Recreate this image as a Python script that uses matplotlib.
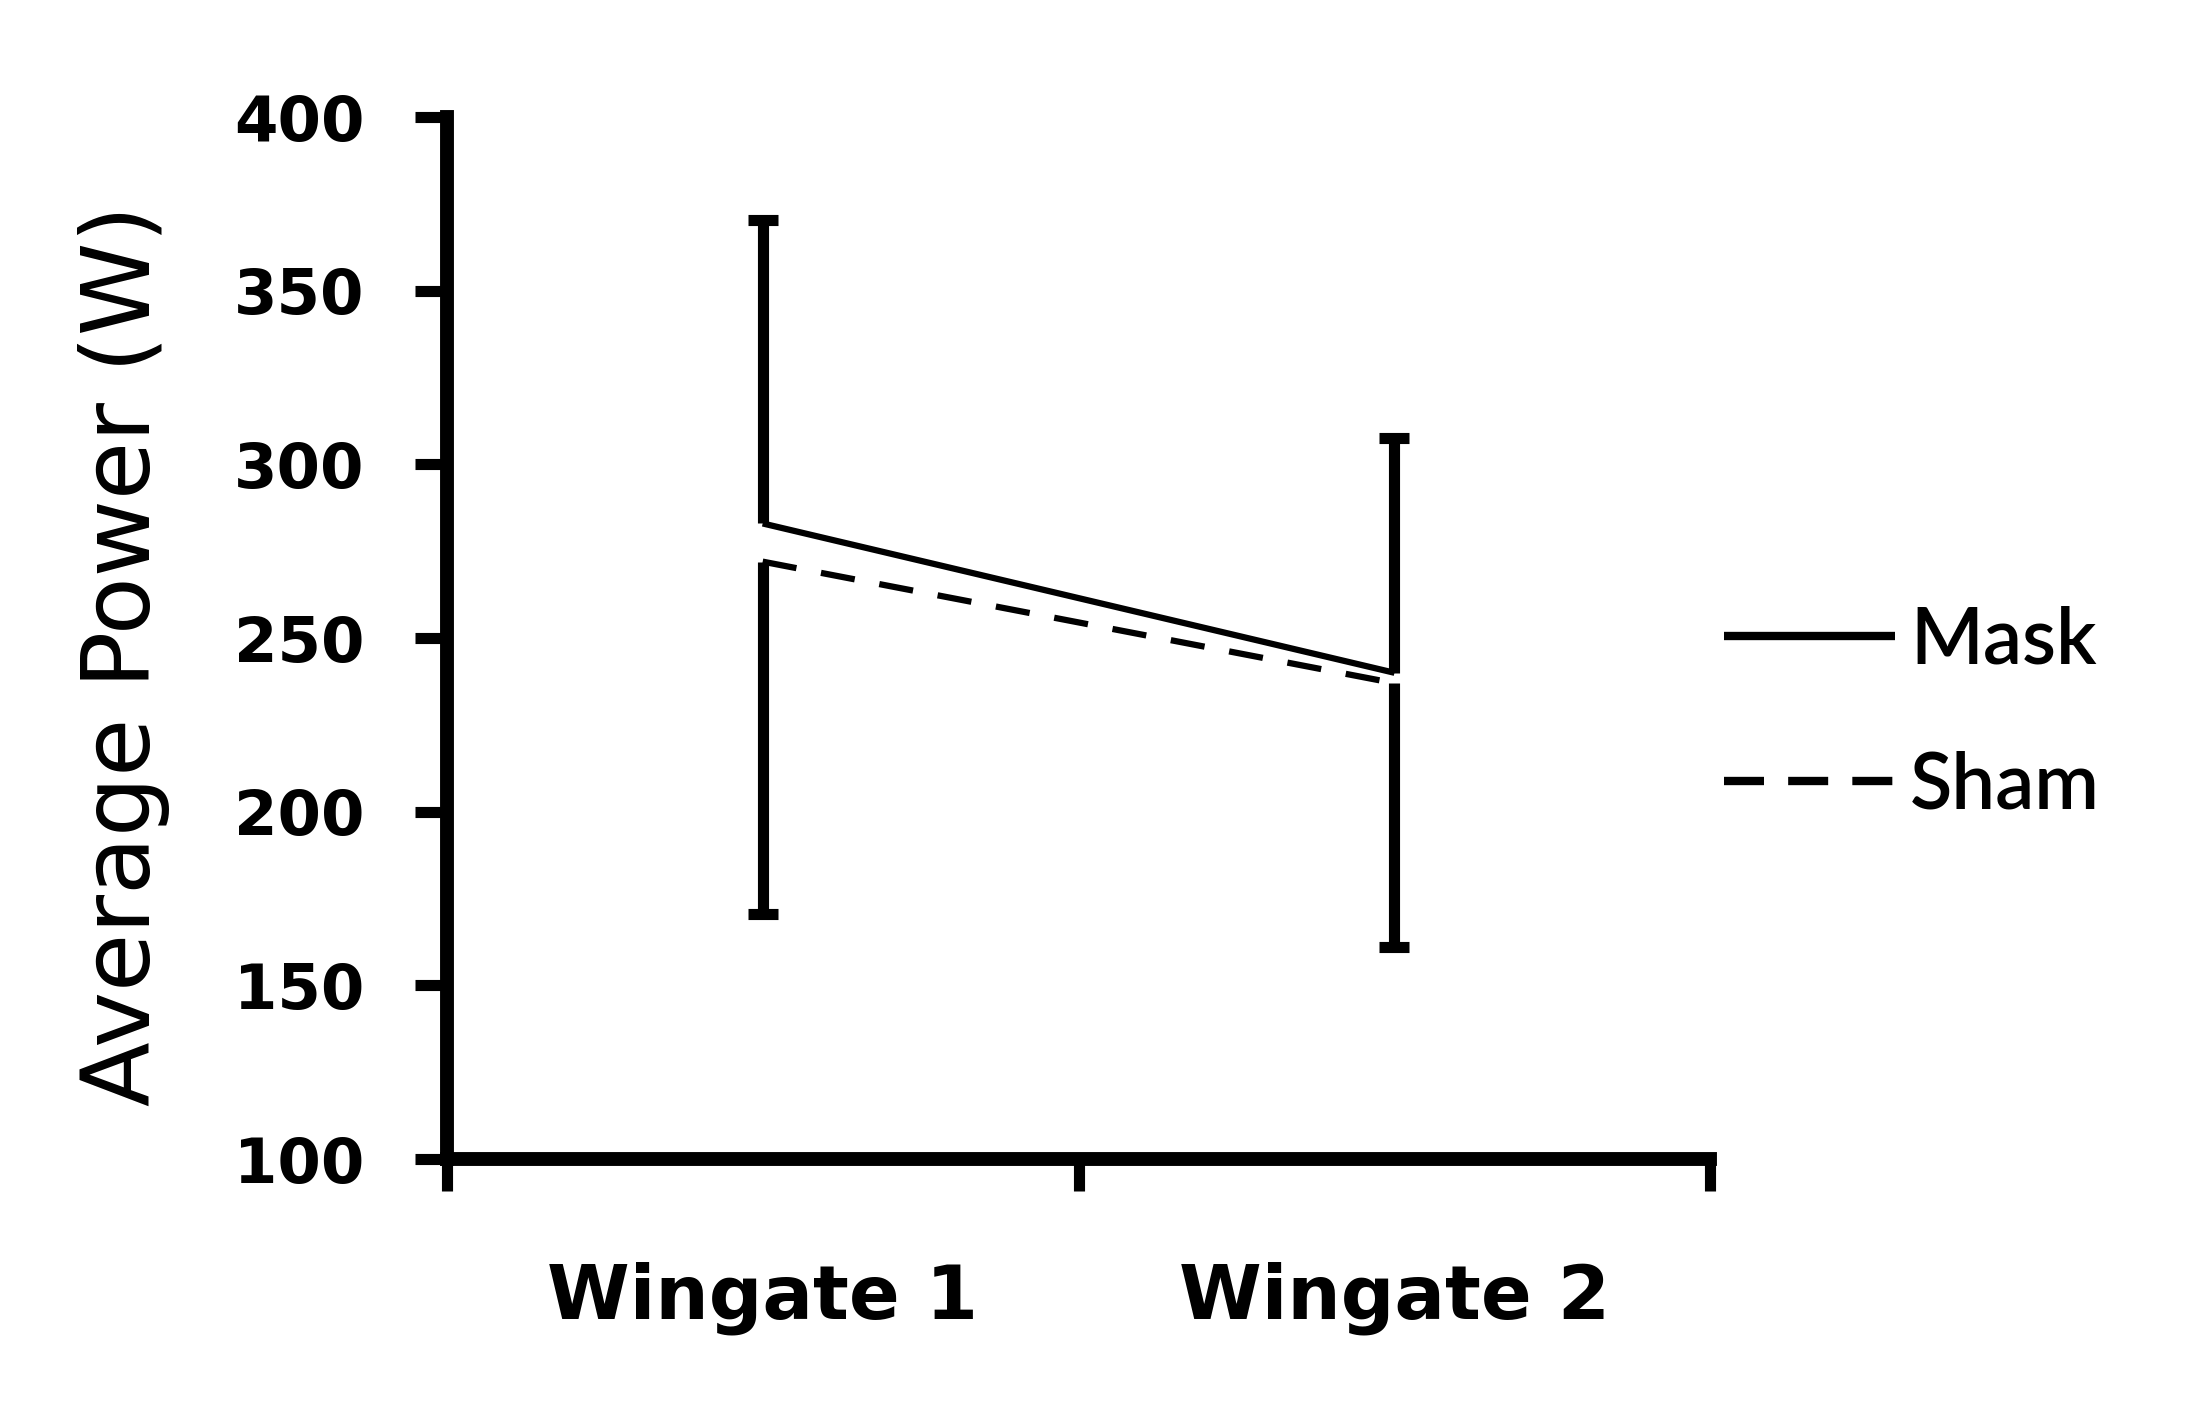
import matplotlib
matplotlib.use("Agg")
import matplotlib.pyplot as plt
import numpy as np

categories = ["Wingate 1", "Wingate 2"]
mask_mean = [283, 240]
mask_upper = [370.5, 307.5]
sham_mean = [272, 237]
sham_lower = [170.5, 161]
yticks = [100, 150, 200, 250, 300, 350, 400]

fig = plt.figure(figsize=(21.9, 14.02), dpi=100)
ax = fig.add_axes([0.204, 0.1733, 0.577, 0.7432])

x = np.arange(len(categories))

# error bars (one-sided: Mask upward, Sham downward)
ax.vlines(x, mask_mean, mask_upper, color="black", lw=8, zorder=3)
ax.plot(x, mask_upper, ls="none", marker="_", ms=21, mew=8, color="black", zorder=3)
ax.vlines(x, sham_lower, sham_mean, color="black", lw=8, zorder=3)
ax.plot(x, sham_lower, ls="none", marker="_", ms=21, mew=8, color="black", zorder=3)

ax.plot(x, mask_mean, color="black", lw=4.5, label="Mask", solid_capstyle="butt", zorder=4)
ax.plot(x, sham_mean, color="black", lw=4.5, ls=(0, (5.5, 4)), label="Sham", zorder=4)

ax.set_xlim(-0.5, 1.5)
ax.set_ylim(100, 400)

ax.spines["top"].set_visible(False)
ax.spines["right"].set_visible(False)
for s in ["left", "bottom"]:
    ax.spines[s].set_linewidth(10)
    ax.spines[s].set_capstyle("projecting")

ax.set_yticks(yticks)
ax.set_yticklabels([str(v) for v in yticks], fontsize=45, fontweight="bold", fontfamily="DejaVu Sans")
ax.tick_params(axis="y", length=23, width=8, pad=36, direction="out")

ax.set_xticks([-0.5, 0.5, 1.5])
ax.set_xticklabels(["", "", ""])
ax.tick_params(axis="x", which="major", length=23, width=8, direction="out")
ax.set_xticks(x, minor=True)
ax.set_xticklabels(categories, minor=True, fontsize=54, fontweight="bold", fontfamily="DejaVu Sans")
ax.tick_params(axis="x", which="minor", length=0, pad=74)

ax.set_ylabel("Average Power (W)", fontsize=68, fontfamily="DejaVu Sans")
ax.yaxis.set_label_coords(-0.219, 0.483)

leg = ax.legend(loc="center left", bbox_to_anchor=(0.955, 0.427), frameon=False,
                prop={"family": "Lato", "size": 56, "weight": "semibold"}, handlelength=2.2,
                handletextpad=0.2, labelspacing=0.94)
leg_lines = leg.get_lines()
for ln in leg_lines:
    ln.set_linewidth(6)
leg_lines[1].set_linestyle((0, (4.8, 2.9)))

fig.savefig("out.png", dpi=100)
